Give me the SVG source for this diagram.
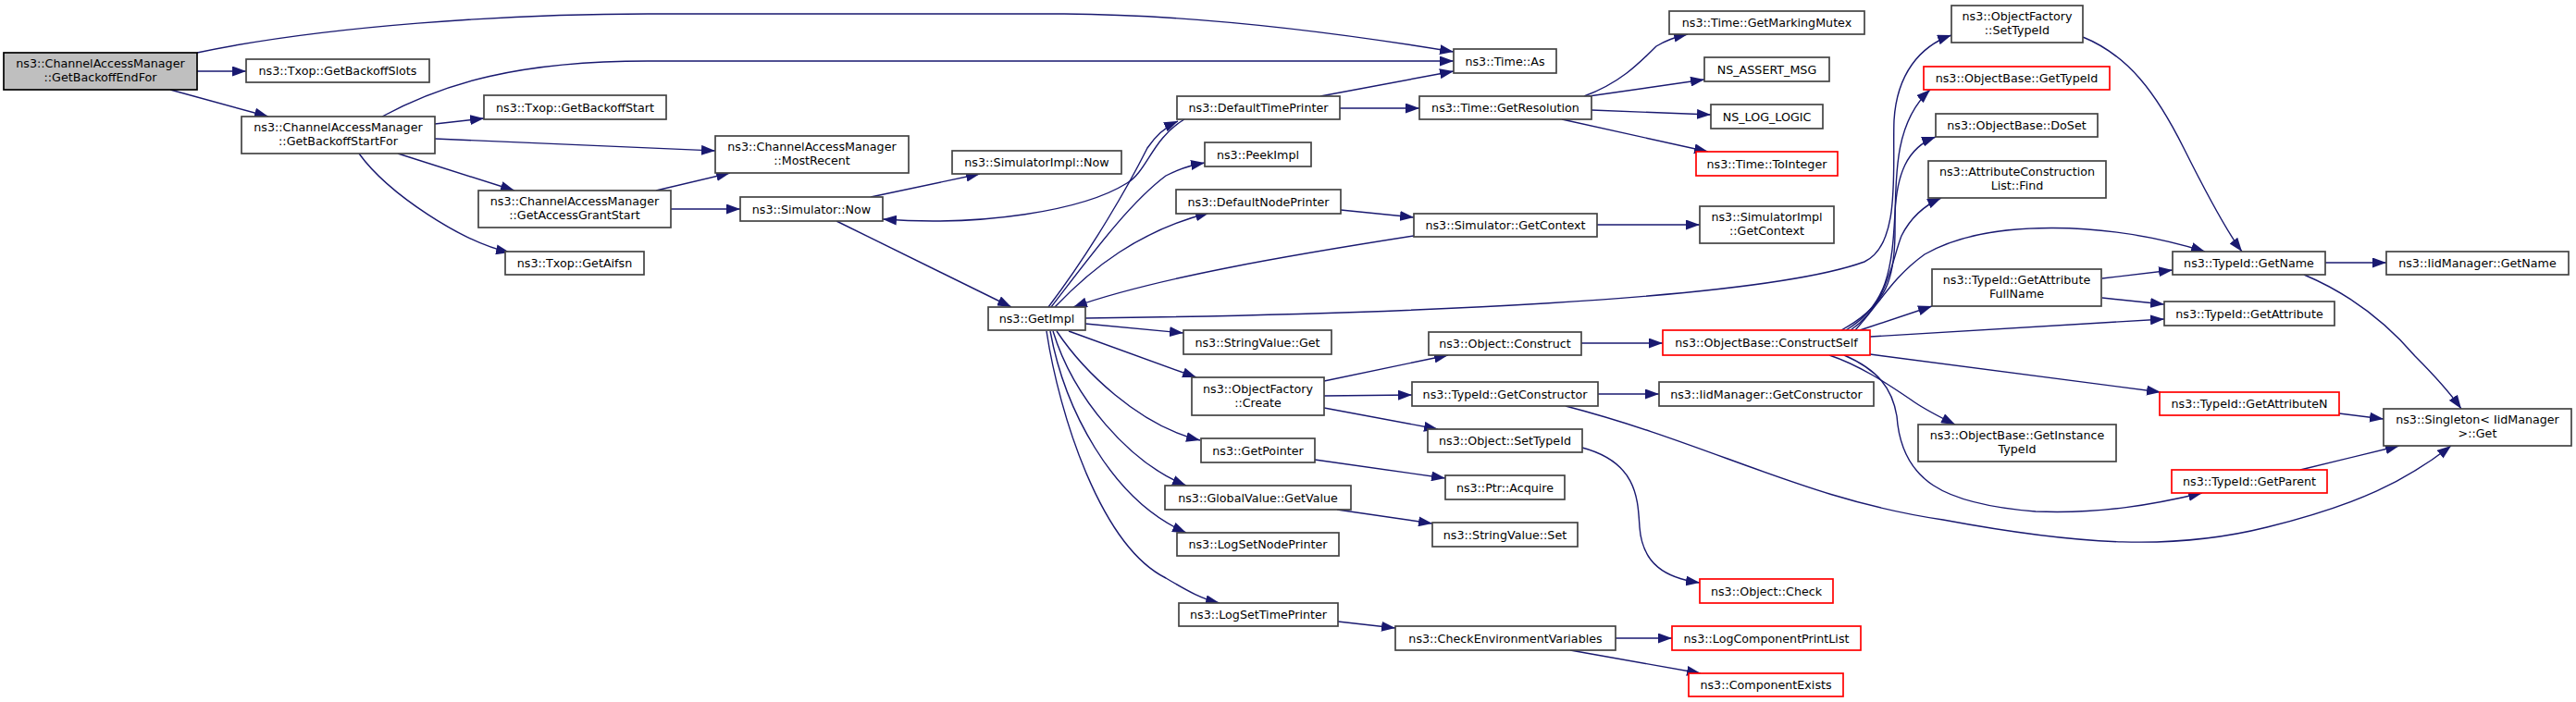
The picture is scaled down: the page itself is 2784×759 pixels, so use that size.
<svg xmlns="http://www.w3.org/2000/svg" width="2784" height="759" viewBox="0 0 2784 759">
<style>
.n rect{fill:#fff;stroke:#444;stroke-width:1.7}
.n.r rect{stroke:#f00}
.n.root rect{fill:#bfbfbf;stroke:#000}
.n text{font-family:"DejaVu Sans",sans-serif;font-size:12.7px;text-anchor:middle;fill:#000}
.e path{fill:none;stroke:#191970;stroke-width:1.4;marker-end:url(#a)}
</style>
<defs>
<marker id="a" markerUnits="userSpaceOnUse" markerWidth="15" markerHeight="11" refX="15" refY="5.5" orient="auto"><path d="M0,0 L15,5.5 L0,11 z" fill="#191970"/></marker>
</defs>
<rect width="2784" height="759" fill="#fff"/>
<g class="e" id="edges">
<path d="M213,57 C350,28 550,15 700,15 L1150,15 C1300,16 1450,36 1571,56"/>
<path d="M213,77 L266,77"/>
<path d="M184,97 L290,126"/>
<path d="M413,126 C480,90 560,66 700,66 L1571,66"/>
<path d="M470,134 L523,128"/>
<path d="M470,150 L773,163"/>
<path d="M430,166 L556,206"/>
<path d="M388,166 C420,210 500,262 551,273"/>
<path d="M709,206 L789,187"/>
<path d="M725,226 L800,226"/>
<path d="M941,213 L1059,188"/>
<path d="M904,239 L1093,332"/>
<path d="M1280,129 C1245,150 1240,185 1218,198 C1170,228 1060,245 954,237"/>
<path d="M1133,332 C1180,270 1220,200 1240,160 C1250,145 1260,137 1273,131"/>
<path d="M1136,332 C1180,275 1220,220 1260,190 C1275,182 1290,178 1302,176"/>
<path d="M1140,332 C1180,290 1230,250 1307,230"/>
<path d="M1173,350 L1279,360"/>
<path d="M1173,344 C1500,340 1900,325 2015,283 C2055,265 2045,180 2047,130 C2050,80 2075,50 2109,38"/>
<path d="M1155,358 L1293,408"/>
<path d="M1142,358 C1170,400 1230,460 1297,476"/>
<path d="M1138,358 C1160,430 1220,500 1282,525"/>
<path d="M1135,358 C1150,440 1200,540 1282,576"/>
<path d="M1131,358 C1145,450 1190,590 1260,625 C1285,640 1300,648 1318,652"/>
<path d="M1427,104 L1571,77"/>
<path d="M1448,117 L1534,117"/>
<path d="M1712,104 C1750,90 1770,70 1790,50 C1800,44 1810,40 1824,37"/>
<path d="M1717,104 L1842,86"/>
<path d="M1720,119 L1849,124"/>
<path d="M1688,129 L1846,164"/>
<path d="M1449,227 L1528,235"/>
<path d="M1528,255 C1400,275 1250,300 1160,332"/>
<path d="M1726,243 L1837,243"/>
<path d="M1709,371 L1797,371"/>
<path d="M1431,412 L1565,384"/>
<path d="M1431,428 L1526,427"/>
<path d="M1431,441 L1554,464"/>
<path d="M1727,426 L1793,426"/>
<path d="M1692,439 C1850,480 1950,540 2100,562 C2250,590 2350,595 2450,570 C2550,545 2600,520 2649,482"/>
<path d="M1710,484 C1770,500 1770,540 1772,570 C1775,610 1800,625 1837,630"/>
<path d="M1421,497 L1562,517"/>
<path d="M1445,551 L1548,566"/>
<path d="M1446,672 L1508,679"/>
<path d="M1746,690 L1807,690"/>
<path d="M1697,703 L1838,728"/>
<path d="M1990,357 C2040,330 2048,300 2048,250 C2048,180 2050,130 2086,97"/>
<path d="M1995,357 C2040,330 2045,290 2048,230 C2050,190 2060,160 2092,148"/>
<path d="M2000,357 C2040,330 2045,280 2055,255 C2065,235 2080,222 2098,214"/>
<path d="M2005,357 C2030,330 2045,300 2080,275 C2150,235 2280,240 2383,272"/>
<path d="M2010,357 L2088,331"/>
<path d="M2021,364 L2339,345"/>
<path d="M2021,383 L2335,424"/>
<path d="M1977,384 C2010,395 2040,415 2065,432 C2080,443 2095,450 2113,459"/>
<path d="M1993,384 C2030,400 2045,420 2050,450 C2055,520 2100,545 2200,553 C2270,556 2330,545 2380,533"/>
<path d="M2251,40 C2300,60 2330,100 2360,160 C2390,220 2410,255 2423,272"/>
<path d="M2272,301 L2348,292"/>
<path d="M2272,322 L2339,329"/>
<path d="M2513,284 L2579,284"/>
<path d="M2490,297 C2540,318 2580,350 2610,385 C2630,405 2648,425 2660,442"/>
<path d="M2528,447 L2576,453"/>
<path d="M2486,508 L2593,482"/>
</g>
<g class="n root" id="n0"><rect x="4" y="57" width="209" height="40"/><text x="108.5" y="73">ns3::ChannelAccessManager</text><text x="108.5" y="88">::GetBackoffEndFor</text></g>
<g class="n" id="n1"><rect x="266" y="64" width="198" height="25"/><text x="365" y="81">ns3::Txop::GetBackoffSlots</text></g>
<g class="n" id="n2"><rect x="261" y="126" width="209" height="40"/><text x="365.5" y="142">ns3::ChannelAccessManager</text><text x="365.5" y="157">::GetBackoffStartFor</text></g>
<g class="n" id="n3"><rect x="523" y="103" width="197" height="26"/><text x="621.5" y="120.5">ns3::Txop::GetBackoffStart</text></g>
<g class="n" id="n4"><rect x="517" y="206" width="208" height="40"/><text x="621" y="222">ns3::ChannelAccessManager</text><text x="621" y="237">::GetAccessGrantStart</text></g>
<g class="n" id="n5"><rect x="546" y="272" width="150" height="25"/><text x="621" y="289">ns3::Txop::GetAifsn</text></g>
<g class="n" id="n6"><rect x="773" y="147" width="209" height="40"/><text x="877.5" y="163">ns3::ChannelAccessManager</text><text x="877.5" y="178">::MostRecent</text></g>
<g class="n" id="n7"><rect x="1029" y="163" width="183" height="25"/><text x="1120.5" y="180">ns3::SimulatorImpl::Now</text></g>
<g class="n" id="n8"><rect x="800" y="213" width="154" height="26"/><text x="877" y="230.5">ns3::Simulator::Now</text></g>
<g class="n" id="n9"><rect x="1068" y="332" width="105" height="25"/><text x="1120.5" y="349">ns3::GetImpl</text></g>
<g class="n" id="n10"><rect x="1272" y="104" width="176" height="25"/><text x="1360" y="121">ns3::DefaultTimePrinter</text></g>
<g class="n" id="n11"><rect x="1302" y="154" width="115" height="26"/><text x="1359.5" y="171.5">ns3::PeekImpl</text></g>
<g class="n" id="n12"><rect x="1271" y="205" width="178" height="26"/><text x="1360" y="222.5">ns3::DefaultNodePrinter</text></g>
<g class="n" id="n13"><rect x="1279" y="357" width="160" height="26"/><text x="1359" y="374.5">ns3::StringValue::Get</text></g>
<g class="n" id="n14"><rect x="1288" y="408" width="143" height="41"/><text x="1359.5" y="424.5">ns3::ObjectFactory</text><text x="1359.5" y="439.5">::Create</text></g>
<g class="n" id="n15"><rect x="1298" y="474" width="123" height="26"/><text x="1359.5" y="491.5">ns3::GetPointer</text></g>
<g class="n" id="n16"><rect x="1259" y="525" width="201" height="26"/><text x="1359.5" y="542.5">ns3::GlobalValue::GetValue</text></g>
<g class="n" id="n17"><rect x="1272" y="576" width="175" height="25"/><text x="1359.5" y="593">ns3::LogSetNodePrinter</text></g>
<g class="n" id="n18"><rect x="1274" y="652" width="172" height="25"/><text x="1360" y="669">ns3::LogSetTimePrinter</text></g>
<g class="n" id="n19"><rect x="1571" y="53" width="111" height="26"/><text x="1626.5" y="70.5">ns3::Time::As</text></g>
<g class="n" id="n20"><rect x="1534" y="104" width="186" height="25"/><text x="1627" y="121">ns3::Time::GetResolution</text></g>
<g class="n" id="n21"><rect x="1804" y="12" width="211" height="25"/><text x="1909.5" y="29">ns3::Time::GetMarkingMutex</text></g>
<g class="n" id="n22"><rect x="1842" y="62" width="135" height="26"/><text x="1909.5" y="79.5">NS_ASSERT_MSG</text></g>
<g class="n" id="n23"><rect x="1849" y="113" width="121" height="26"/><text x="1909.5" y="130.5">NS_LOG_LOGIC</text></g>
<g class="n r" id="n24"><rect x="1833" y="164" width="153" height="26"/><text x="1909.5" y="181.5">ns3::Time::ToInteger</text></g>
<g class="n" id="n25"><rect x="1528" y="231" width="198" height="25"/><text x="1627" y="248">ns3::Simulator::GetContext</text></g>
<g class="n" id="n26"><rect x="1837" y="223" width="145" height="40"/><text x="1909.5" y="239">ns3::SimulatorImpl</text><text x="1909.5" y="254">::GetContext</text></g>
<g class="n" id="n27"><rect x="1544" y="359" width="165" height="25"/><text x="1626.5" y="376">ns3::Object::Construct</text></g>
<g class="n r" id="n28"><rect x="1797" y="357" width="224" height="27"/><text x="1909" y="375">ns3::ObjectBase::ConstructSelf</text></g>
<g class="n" id="n29"><rect x="1526" y="413" width="201" height="26"/><text x="1626.5" y="430.5">ns3::TypeId::GetConstructor</text></g>
<g class="n" id="n30"><rect x="1793" y="413" width="232" height="26"/><text x="1909" y="430.5">ns3::IidManager::GetConstructor</text></g>
<g class="n" id="n31"><rect x="1543" y="464" width="167" height="25"/><text x="1626.5" y="481">ns3::Object::SetTypeId</text></g>
<g class="n" id="n32"><rect x="1562" y="514" width="129" height="26"/><text x="1626.5" y="531.5">ns3::Ptr::Acquire</text></g>
<g class="n" id="n33"><rect x="1548" y="565" width="157" height="26"/><text x="1626.5" y="582.5">ns3::StringValue::Set</text></g>
<g class="n r" id="n34"><rect x="1837" y="626" width="144" height="26"/><text x="1909" y="643.5">ns3::Object::Check</text></g>
<g class="n" id="n35"><rect x="1508" y="677" width="238" height="26"/><text x="1627" y="694.5">ns3::CheckEnvironmentVariables</text></g>
<g class="n r" id="n36"><rect x="1807" y="677" width="204" height="26"/><text x="1909" y="694.5">ns3::LogComponentPrintList</text></g>
<g class="n r" id="n37"><rect x="1825" y="728" width="167" height="25"/><text x="1908.5" y="745">ns3::ComponentExists</text></g>
<g class="n" id="n38"><rect x="2109" y="6" width="142" height="40"/><text x="2180" y="22">ns3::ObjectFactory</text><text x="2180" y="37">::SetTypeId</text></g>
<g class="n r" id="n39"><rect x="2079" y="72" width="201" height="25"/><text x="2179.5" y="89">ns3::ObjectBase::GetTypeId</text></g>
<g class="n" id="n40"><rect x="2092" y="123" width="175" height="25"/><text x="2179.5" y="140">ns3::ObjectBase::DoSet</text></g>
<g class="n" id="n41"><rect x="2084" y="174" width="192" height="40"/><text x="2180" y="190">ns3::AttributeConstruction</text><text x="2180" y="205">List::Find</text></g>
<g class="n" id="n42"><rect x="2088" y="291" width="183" height="40"/><text x="2179.5" y="307">ns3::TypeId::GetAttribute</text><text x="2179.5" y="322">FullName</text></g>
<g class="n" id="n43"><rect x="2348" y="272" width="165" height="25"/><text x="2430.5" y="289">ns3::TypeId::GetName</text></g>
<g class="n" id="n44"><rect x="2579" y="272" width="197" height="25"/><text x="2677.5" y="289">ns3::IidManager::GetName</text></g>
<g class="n" id="n45"><rect x="2339" y="326" width="184" height="26"/><text x="2431" y="343.5">ns3::TypeId::GetAttribute</text></g>
<g class="n r" id="n46"><rect x="2334" y="424" width="194" height="25"/><text x="2431" y="441">ns3::TypeId::GetAttributeN</text></g>
<g class="n" id="n47"><rect x="2576" y="442" width="203" height="40"/><text x="2677.5" y="458">ns3::Singleton&lt; IidManager</text><text x="2677.5" y="473">&gt;::Get</text></g>
<g class="n" id="n48"><rect x="2073" y="459" width="214" height="40"/><text x="2180" y="475">ns3::ObjectBase::GetInstance</text><text x="2180" y="490">TypeId</text></g>
<g class="n r" id="n49"><rect x="2347" y="508" width="168" height="25"/><text x="2431" y="525">ns3::TypeId::GetParent</text></g>
</svg>
